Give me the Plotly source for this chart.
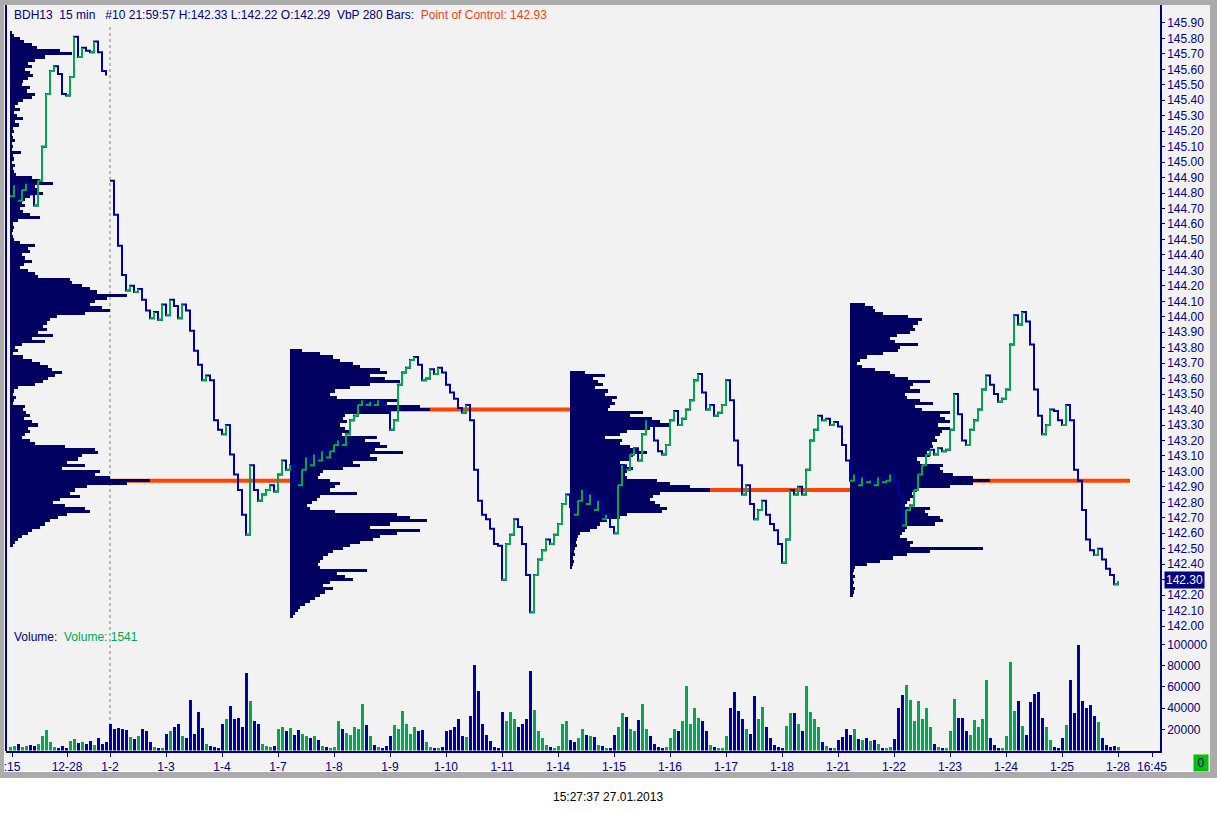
"""
    BDH13 15 min chart with volume-by-price profiles (280 bars each)
    and a volume panel underneath, redrawn in plotly
"""

import numpy as np
import plotly.graph_objects as go


####~~~~  data


step = 4            # one sample every 4 bars (15 min bars)

# closes, Dec sessions (before the 1-2 break)
price_dec = [144.78, 144.85, 144.75, 144.82, 144.86, 144.79, 144.72, 144.88, 145.10, 145.44,
             145.59, 145.62, 145.57, 145.44, 145.43, 145.55, 145.81, 145.68, 145.74, 145.72,
             145.71, 145.78, 145.71, 145.59, 145.56]

# closes, Jan sessions
price_jan = [144.88, 144.66, 144.46, 144.27, 144.17, 144.20, 144.16, 144.18, 144.11, 144.04,
             143.99, 144.03, 143.98, 144.08, 144.01, 144.11, 144.07, 143.99, 144.08, 144.04,
             143.91, 143.78, 143.69, 143.59, 143.62, 143.59, 143.33, 143.27, 143.24, 143.30,
             143.11, 142.98, 142.88, 142.72, 142.59, 143.04, 142.88, 142.81, 142.85, 142.88,
             142.91, 142.87, 142.98, 143.07, 143.01, 143.04, 142.94, 142.91, 143.01, 143.09,
             143.04, 143.11, 143.07, 143.13, 143.09, 143.13, 143.17, 143.20, 143.17, 143.24,
             143.33, 143.36, 143.43, 143.46, 143.43, 143.45, 143.43, 143.46, 143.43, 143.39,
             143.27, 143.33, 143.56, 143.64, 143.67, 143.72, 143.74, 143.69, 143.59, 143.60,
             143.66, 143.63, 143.67, 143.64, 143.56, 143.51, 143.47, 143.41, 143.38, 143.43,
             143.33, 143.01, 142.81, 142.72, 142.69, 142.63, 142.53, 142.52, 142.30, 142.53,
             142.59, 142.69, 142.64, 142.53, 142.33, 142.09, 142.33, 142.43, 142.49, 142.56,
             142.53, 142.59, 142.66, 142.79, 142.85, 142.77, 142.72, 142.81, 142.88, 142.79,
             142.85, 142.75, 142.81, 142.69, 142.72, 142.64, 142.60, 142.91, 143.04, 143.01,
             143.11, 143.15, 143.07, 143.24, 143.33, 143.30, 143.20, 143.13, 143.11, 143.17,
             143.33, 143.39, 143.30, 143.34, 143.40, 143.46, 143.59, 143.63, 143.51, 143.40,
             143.43, 143.36, 143.38, 143.43, 143.59, 143.46, 143.20, 143.04, 142.85, 142.91,
             142.79, 142.69, 142.75, 142.81, 142.72, 142.66, 142.62, 142.53, 142.41, 142.56,
             142.88, 142.85, 142.90, 142.85, 143.01, 143.20, 143.27, 143.36, 143.33, 143.34,
             143.30, 143.32, 143.29, 143.17, 143.07, 142.94, 142.98, 142.91, 142.96, 142.93,
             142.94, 142.91, 142.96, 142.93, 142.94, 142.98, 142.93, 142.85, 142.65, 142.75,
             142.78, 142.88, 142.98, 143.04, 143.11, 143.14, 143.11, 143.15, 143.13, 143.14,
             143.27, 143.50, 143.37, 143.20, 143.17, 143.27, 143.33, 143.40, 143.53, 143.62,
             143.56, 143.50, 143.45, 143.47, 143.53, 143.82, 144.01, 143.95, 144.03, 143.97,
             143.82, 143.53, 143.36, 143.24, 143.30, 143.40, 143.39, 143.33, 143.30, 143.43,
             143.33, 143.01, 142.94, 142.75, 142.56, 142.49, 142.46, 142.50, 142.43, 142.37,
             142.33, 142.27, 142.29]

# volume in thousands, same samples as the closes
volume_k = [3, 4, 6, 3, 4, 5, 4, 6, 14, 19,
            8, 3, 2, 4, 2, 9, 11, 7, 8, 6,
            9, 5, 12, 6, 8, 25, 20, 21, 20, 19,
            13, 11, 14, 20, 18, 8, 3, 2, 2, 16,
            18, 22, 25, 14, 12, 48, 16, 36, 21, 6,
            4, 3, 2, 25, 30, 42, 30, 31, 22, 73,
            47, 28, 25, 6, 4, 3, 4, 20, 22, 18,
            21, 15, 19, 16, 14, 12, 14, 10, 4, 3,
            2, 3, 28, 20, 17, 15, 22, 20, 44, 24,
            14, 5, 3, 2, 4, 14, 24, 20, 37, 25,
            16, 22, 18, 19, 8, 3, 2, 2, 3, 18,
            19, 22, 30, 14, 13, 33, 81, 56, 25, 15,
            9, 3, 2, 36, 28, 36, 30, 22, 25, 30,
            75, 38, 18, 12, 5, 3, 2, 4, 25, 28,
            10, 8, 12, 20, 15, 14, 13, 5, 4, 2,
            2, 15, 22, 35, 32, 20, 18, 29, 44, 20,
            14, 6, 3, 2, 3, 12, 20, 18, 28, 61,
            25, 40, 31, 28, 18, 5, 3, 2, 2, 14,
            40, 55, 37, 30, 20, 16, 51, 30, 41, 22,
            12, 5, 3, 2, 23, 35, 35, 25, 18, 61,
            36, 30, 22, 8, 4, 2, 2, 10, 13, 20,
            15, 20, 11, 10, 12, 9, 10, 6, 2, 2,
            3, 11, 40, 52, 62, 48, 28, 47, 30, 40,
            22, 6, 3, 2, 2, 18, 49, 31, 31, 18,
            15, 29, 22, 30, 67, 12, 5, 2, 2, 14,
            84, 37, 47, 23, 15, 46, 53, 55, 31, 22,
            10, 3, 2, 12, 24, 67, 35, 100, 47, 40,
            43, 33, 27, 12, 5, 3, 4, 3]

last_volume = 1541

day_ticks = [2, 57, 100, 156, 212, 268, 324, 380, 436, 492, 548,
             604, 660, 716, 772, 828, 884, 940, 996, 1052, 1108, 1142]
day_labels = [":15", "12-28", "1-2", "1-3", "1-4", "1-7", "1-8", "1-9", "1-10", "1-11", "1-14",
              "1-15", "1-16", "1-17", "1-18", "1-21", "1-22", "1-23", "1-24", "1-25", "1-28", "16:45"]

# volume by price, 280 bars per block, rows of 0.02 from the top price down
vbp_bars = 280
vbp_row = 0.02
vbp_start = [0, 280, 560, 840]
vbp_top = [145.84, 143.78, 143.64, 144.08]

vbp1 = [2, 4, 10, 14, 22, 27, 50, 62, 35, 25, 18, 22, 15, 20, 23, 18, 13, 12, 20, 17,
        25, 22, 13, 8, 5, 10, 4, 7, 13, 5, 9, 3, 4, 2, 3, 5, 2, 3, 2, 11,
        3, 4, 2, 5, 3, 4, 6, 22, 30, 43, 25, 28, 33, 20, 15, 12, 15, 10, 13, 20,
        30, 8, 3, 4, 3, 2, 3, 4, 10, 25, 18, 20, 12, 15, 22, 14, 10, 18, 25, 28,
        60, 62, 72, 80, 87, 117, 97, 85, 80, 92, 100, 75, 47, 40, 37, 33, 37, 28, 43, 22,
        35, 12, 5, 8, 3, 13, 22, 30, 38, 42, 52, 45, 38, 33, 25, 8, 4, 3, 6, 4,
        3, 15, 13, 16, 20, 14, 22, 28, 18, 20, 15, 12, 20, 25, 55, 85, 88, 72, 68, 57,
        75, 52, 90, 85, 100, 140, 117, 77, 65, 60, 70, 50, 43, 55, 75, 80, 57, 48, 40, 35,
        30, 22, 18, 12, 8, 5, 3]

vbp2 = [12, 30, 43, 50, 63, 70, 90, 97, 80, 95, 110, 80, 60, 45, 40, 47, 107, 97, 130, 140,
        100, 55, 53, 57, 50, 55, 60, 52, 87, 75, 90, 97, 85, 113, 80, 87, 63, 70, 53, 33,
        30, 28, 40, 50, 45, 40, 67, 30, 27, 22, 17, 20, 45, 107, 120, 137, 100, 80, 130, 107,
        90, 83, 70, 60, 53, 43, 38, 33, 30, 28, 30, 77, 47, 55, 63, 40, 33, 43, 35, 30,
        25, 20, 15, 10, 8, 5, 3]

vbp3 = [15, 35, 23, 28, 33, 25, 38, 35, 47, 42, 45, 40, 38, 73, 60, 82, 90, 100, 80, 57,
        50, 35, 52, 50, 60, 67, 77, 63, 60, 50, 55, 63, 57, 55, 57, 87, 100, 120, 140, 90,
        83, 80, 85, 90, 97, 92, 57, 50, 37, 30, 27, 20, 10, 8, 7, 6, 7, 5, 4, 5,
        3, 4, 3, 2]

vbp4 = [15, 23, 25, 33, 58, 72, 68, 63, 65, 60, 47, 40, 45, 68, 50, 48, 33, 17, 10, 7,
        12, 25, 40, 45, 58, 80, 63, 60, 70, 55, 57, 70, 83, 65, 72, 100, 90, 95, 100, 88,
        100, 92, 90, 85, 87, 82, 83, 80, 77, 80, 67, 70, 93, 90, 93, 103, 123, 140, 123, 100,
        67, 62, 65, 60, 57, 55, 80, 75, 78, 90, 93, 85, 57, 55, 52, 50, 57, 63, 60, 133,
        80, 57, 43, 30, 17, 5, 4, 3, 5, 3, 4, 3, 5, 4, 3]

price_ticks = np.round(np.arange(142.0, 145.95, 0.1), 2)
volume_ticks = [20000, 40000, 60000, 80000, 100000]


####~~~~  look


W, H = 1217, 813
NAVY = "#0000a0"
GREEN = "#00a651"
PROFILE = "#000060"
POC = "#ff4500"
AXIS = "#000080"
FONT = "Arial, Liberation Sans, sans-serif"


def px_x(p) :
    return p / W


def px_y(p) :
    return 1 - p / H


####~~~~


def main() :

    close = np.array(price_dec + price_jan)
    bars = np.arange(len(close)) * step
    n_dec = len(price_dec)
    vol = np.array(volume_k[:len(close)]) * 1000
    vbars = bars[:len(vol)]

    fig = go.Figure()

    # volume by price profiles + point of control
    shapes = []
    for start, top, rows in zip(vbp_start, vbp_top, [vbp1, vbp2, vbp3, vbp4]) :
        v = np.array(rows, dtype=float)
        levels = top - vbp_row * np.arange(len(v))
        fig.add_trace(go.Bar(
            orientation="h", y=levels, x=v / v.max() * (vbp_bars / 2), base=start,
            width=vbp_row, marker_color=PROFILE, marker_line_width=0,
            xaxis="x", yaxis="y", hoverinfo="skip"
        ))
        poc = levels[v.argmax()]
        shapes.append(dict(type="line", xref="x", yref="y", x0=start, x1=start + vbp_bars,
                           y0=poc, y1=poc, line=dict(color=POC, width=4), layer="below"))

    # price line, navy with green up-moves, broken at the 1-2 session
    lx = list(bars[:n_dec]) + [None] + list(bars[n_dec:])
    ly = list(close[:n_dec]) + [None] + list(close[n_dec:])
    fig.add_trace(go.Scatter(x=lx, y=ly, mode="lines", line=dict(color=NAVY, width=2, shape="hv"),
                             xaxis="x", yaxis="y", hoverinfo="skip"))
    gx, gy = [], []
    for i in range(1, len(close)) :
        if i == n_dec :
            continue
        if close[i] > close[i - 1] :
            gx += [bars[i - 1], bars[i], None]
            gy += [close[i - 1], close[i], None]
    fig.add_trace(go.Scatter(x=gx, y=gy, mode="lines", line=dict(color=GREEN, width=2, shape="hv"),
                             xaxis="x", yaxis="y", hoverinfo="skip"))

    # volume bars coloured by direction
    vcol = [GREEN] + [GREEN if close[i] >= close[i - 1] else NAVY for i in range(1, len(vol))]
    fig.add_trace(go.Bar(x=vbars, y=vol, width=step * 0.75, marker_color=vcol,
                         marker_line_width=0, xaxis="x", yaxis="y2", hoverinfo="skip"))

    # window frame
    frame = [
        dict(type="rect", xref="paper", yref="paper", x0=0, x1=1, y0=px_y(778), y1=1,
             fillcolor="#ababab", line_width=0, layer="below"),
        dict(type="rect", xref="paper", yref="paper", x0=px_x(4), x1=px_x(1210),
             y0=px_y(771), y1=px_y(5), fillcolor="#f2f2f2", line_width=0, layer="below"),
        dict(type="line", xref="paper", yref="paper", x0=px_x(4), x1=px_x(1210),
             y0=px_y(771.5), y1=px_y(771.5), line=dict(color="#ffffff", width=1), layer="below"),
        dict(type="line", xref="paper", yref="paper", x0=px_x(6), x1=px_x(6),
             y0=px_y(751), y1=px_y(5), line=dict(color=AXIS, width=2)),
        dict(type="line", xref="x", yref="paper", x0=bars[n_dec], x1=bars[n_dec],
             y0=px_y(750), y1=px_y(24), line=dict(color="#808080", width=1, dash="dot"),
             layer="below"),
    ]

    ann = [
        dict(xref="paper", yref="paper", x=px_x(12), y=px_y(15), xanchor="left", yanchor="middle",
             showarrow=False, font=dict(family=FONT, size=12, color=AXIS),
             text="BDH13\u00a0\u00a015 min\u00a0\u00a0\u00a0#10 21:59:57 H:142.33 L:142.22 O:142.29"
                  "\u00a0\u00a0VbP 280 Bars:\u00a0\u00a0"
                  "<span style='color:#ff4020'>Point of Control: 142.93</span>"),
        dict(xref="paper", yref="paper", x=px_x(12), y=px_y(637), xanchor="left", yanchor="middle",
             showarrow=False, font=dict(family=FONT, size=12, color=AXIS),
             text="Volume:\u00a0\u00a0<span style='color:%s'>Volume: %d</span>" % (GREEN, last_volume)),
        dict(xref="paper", yref="y", x=px_x(1163.5), y=round(close[-1], 1), xanchor="left",
             yanchor="middle", showarrow=False, bgcolor=AXIS, borderpad=1,
             font=dict(family=FONT, size=12, color="#ffffff"), text="%.2f" % round(close[-1], 1)),
        dict(xref="paper", yref="paper", x=px_x(1201), y=px_y(762.5), xanchor="center",
             yanchor="middle", showarrow=False, bgcolor="#00c000", width=12, height=14,
             font=dict(family=FONT, size=12, color=AXIS), text="0"),
        dict(xref="paper", yref="paper", x=px_x(608), y=px_y(797), xanchor="center",
             yanchor="middle", showarrow=False, font=dict(family=FONT, size=12, color="#000000"),
             text="15:27:37 27.01.2013"),
    ]

    tick_font = dict(family=FONT, size=12, color=AXIS)

    fig.update_layout(
        width=W, height=H, margin=dict(l=0, r=0, t=0, b=0, pad=0),
        paper_bgcolor="#ffffff", plot_bgcolor="rgba(0,0,0,0)",
        showlegend=False, barmode="overlay", bargap=0,
        shapes=shapes + frame, annotations=ann,
        xaxis=dict(domain=[px_x(6), px_x(1160)], range=[-4, 1150], anchor="y2", automargin=False,
                   tickmode="array", tickvals=day_ticks, ticktext=day_labels,
                   ticks="outside", ticklen=4, tickcolor=AXIS, tickfont=tick_font,
                   showline=True, linecolor=AXIS, linewidth=2, showgrid=False, zeroline=False),
        yaxis=dict(domain=[px_y(631), px_y(5)], range=[141.968, 146.016], anchor="x",
                   automargin=False,
                   side="right", tickmode="array", tickvals=price_ticks, tickformat=".2f",
                   ticks="outside", ticklen=3, tickcolor=AXIS, tickfont=tick_font,
                   showline=True, linecolor=AXIS, linewidth=1.5, showgrid=False, zeroline=False),
        yaxis2=dict(domain=[px_y(750.5), px_y(631)], range=[0, 112842], anchor="x",
                    automargin=False,
                    side="right", tickmode="array", tickvals=volume_ticks, tickformat="d",
                    ticks="outside", ticklen=3, tickcolor=AXIS, tickfont=tick_font,
                    showline=True, linecolor=AXIS, linewidth=1.5, showgrid=False, zeroline=False),
    )

    fig.write_html("out.html", config={"displayModeBar": False},
                   post_script="document.body.style.margin='0';document.body.style.overflow='hidden';")


####~~~~


if __name__ == '__main__' :
    main()


#########~~~~~~~~END>  plot.py
